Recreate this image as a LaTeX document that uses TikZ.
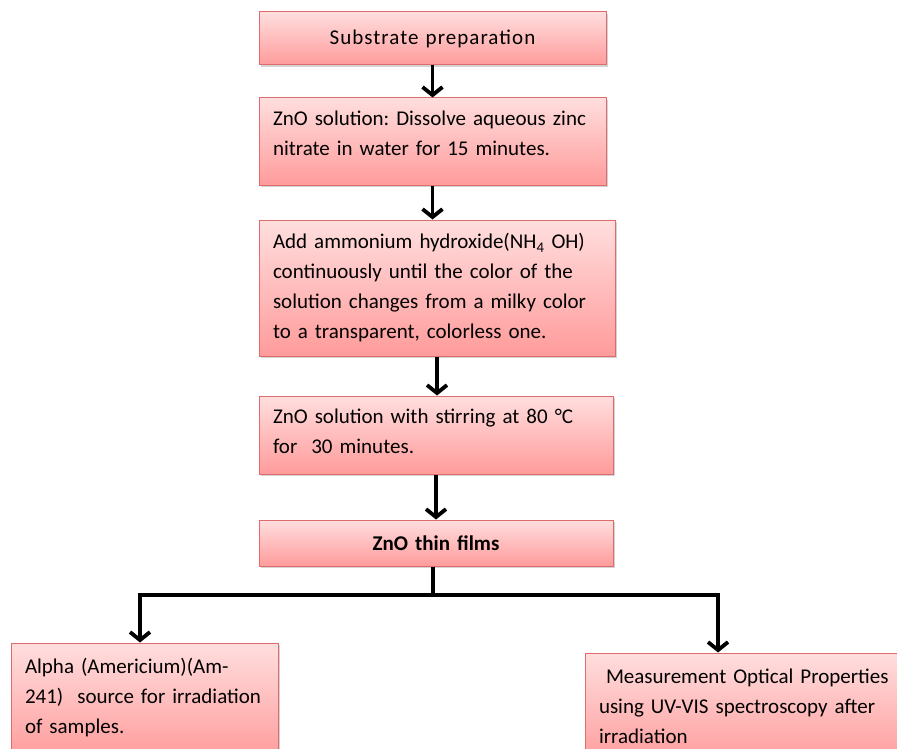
\documentclass[tikz,border=0pt]{standalone}
\usepackage{fontspec}
\setmainfont{Carlito}
\usepackage{tikz}
\usetikzlibrary{arrows.meta, positioning, shadows}
\definecolor{boxborder}{RGB}{222, 108, 108}
\definecolor{boxtop}{RGB}{255, 222, 222}
\definecolor{boxbottom}{RGB}{255, 155, 155}
\tikzstyle{stepbox} = [
    rectangle,
    draw=boxborder,
    line width=1pt,
    top color=boxtop,
    bottom color=boxbottom,
    drop shadow={shadow xshift=1.5pt, shadow yshift=-2pt, opacity=0.35},
    inner xsep=14pt,
    inner ysep=4pt,
    align=left,
    font=\fontsize{21}{30}\selectfont
]
\tikzstyle{arrow} = [
    line width=3.8pt,
    -{Straight Barb[length=8pt, width=20pt]},
    color=black
]
\tikzstyle{line} = [
    line width=3.8pt,
    color=black
]

\begin{document}
\frenchspacing
\begin{tikzpicture}[x=1pt, y=-1pt]
        \useasboundingbox (0,0) rectangle (897,749);
        \clip (0,0) rectangle (897,749);

        % Preparation steps
        \node[stepbox, align=center, minimum width=347pt, minimum height=53pt, text width=319pt, font=\fontsize{21}{30}\selectfont\addfontfeature{LetterSpace=5}] (prep) at (432.5, 38.5) {Substrate preparation};
        \node[stepbox, minimum width=347pt, minimum height=87pt, text width=319pt, text depth=46pt] (dissolve) at (432.5, 141.5) {ZnO solution: Dissolve aqueous zinc\\nitrate in water for 15 minutes.};
        \node[stepbox, minimum width=356pt, minimum height=136pt, text width=328pt] (ammonia) at (437, 288) {Add ammonium hydroxide(NH\textsubscript{4} OH)\\continuously until the color of the\\solution changes from a milky color\\to a transparent, colorless one.};
        \node[stepbox, minimum width=354pt, minimum height=78pt, text width=326pt, text depth=38pt] (stirring) at (436, 435) {ZnO solution with stirring at 80 °C\\for\ \ 30 minutes.};

        % Result
        \node[stepbox, align=center, minimum width=354pt, minimum height=46pt, text width=326pt, font=\fontsize{21}{30}\selectfont\bfseries] (films) at (436, 543) {ZnO thin films};

        % Follow-up steps
        \node[stepbox, minimum width=267pt, minimum height=117pt, text width=239pt, text depth=71pt] (alpha) at (144.5, 701.5) {Alpha (Americium)(Am-\\241)\ \ source for irradiation\\of samples.};
        \node[stepbox, minimum width=320pt, minimum height=112pt, text width=292pt, text depth=66pt] (optics) at (745, 709) {\ Measurement Optical Properties\\using UV-VIS spectroscopy after\\irradiation};

        % Connections
        \draw[arrow] (prep) -- (prep |- dissolve.north);
        \draw[arrow] (dissolve) -- (dissolve |- ammonia.north);
        \draw[arrow] (ammonia) -- (ammonia |- stirring.north);
        \draw[arrow] (stirring) -- (stirring |- films.north);

        \coordinate (split) at (433, 595);
        \draw[line] (films.south -| split) -- (split);
        \draw[arrow] (split) -| ([xshift=-4.5pt]alpha.north);
        \draw[arrow] (split) -| ([xshift=-27pt]optics.north);
    \end{tikzpicture}
\end{document}
